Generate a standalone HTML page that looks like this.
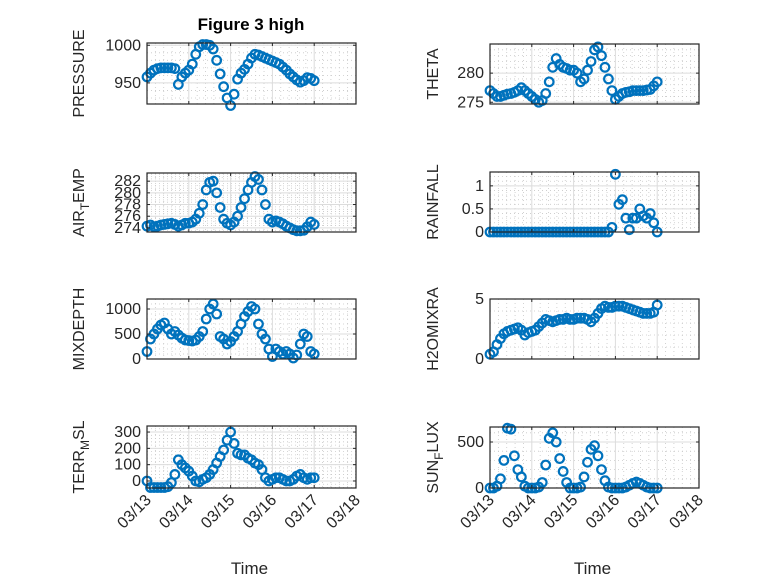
<!DOCTYPE html>
<html><head><meta charset="utf-8"><style>
body{margin:0;background:#fff;}
svg{display:block;font-family:"Liberation Sans","DejaVu Sans",sans-serif;}
</style></head><body>
<svg id="fig" width="778" height="583" viewBox="0 0 778 583" xmlns="http://www.w3.org/2000/svg">
<rect width="778" height="583" fill="#fff"/>
<text x="251" y="30" text-anchor="middle" font-size="17" font-weight="bold" fill="#000">Figure 3 high</text>
</svg>
<script>
const hours = [0,2,4,6,8,10,12,14,16,18,20,22,24,26,28,30,32,34,36,38,40,42,44,46,48,50,52,54,56,58,60,62,64,66,68,70,72,74,76,78,80,82,84,86,88,90,92,94,96];
const dayLabels = ["03/13","03/14","03/15","03/16","03/17","03/18"];
const pressure = [958,963,967,969,970,970,970,970,969,948,958,963,967,975,988,998,1001,1001,1000,995,980,962,945,930,920,935,955,963,968,975,983,988,987,985,983,981,979,977,975,971,967,962,958,954,951,953,957,956,953];
const airTemp = [274.3,274.5,274.2,274.3,274.5,274.6,274.7,274.8,274.6,274.3,274.5,274.8,274.8,275,275.5,276.5,278,280.5,281.8,282,280,277.5,275.5,274.8,274.5,275,276,277.5,279,280.5,281.8,282.8,282.3,280.5,278,275.5,275,275.2,275,274.7,274.3,274,273.7,273.5,273.5,273.6,274.2,275,274.6];
const mixDepth = [150,400,500,600,680,720,600,500,550,480,420,380,370,360,380,450,550,800,1000,1100,900,450,400,300,350,450,550,700,850,950,1050,1000,700,500,400,200,50,200,150,100,150,100,20,80,300,500,450,150,100];
const terrMsl = [0,-40,-40,-40,-40,-40,-35,-10,40,130,100,80,60,30,0,-5,10,20,40,70,110,150,190,250,300,230,170,160,160,140,130,110,100,70,20,0,10,20,20,10,0,0,10,30,40,20,10,20,20];
const theta = [277,276.5,276,276,276.2,276.4,276.5,276.7,277,277.5,277,276.5,276,275.5,275,275.3,276.5,278.5,281,282.5,281.5,281,280.8,280.5,280.5,280,278.5,279,280.5,282,284,284.5,283,281,279,277,275.5,276,276.5,276.7,276.8,277,277,277,277,277.1,277.2,277.8,278.5];
const rainfall = [0,0,0,0,0,0,0,0,0,0,0,0,0,0,0,0,0,0,0,0,0,0,0,0,0,0,0,0,0,0,0,0,0,0,0,0.1,1.25,0.6,0.7,0.3,0.05,0.3,0.3,0.5,0.35,0.3,0.4,0.2,0];
const h2oMix = [0.4,0.6,1.2,1.7,2.1,2.3,2.4,2.5,2.6,2.4,2.0,2.2,2.3,2.4,2.7,3.0,3.3,3.2,3.1,3.2,3.3,3.3,3.4,3.3,3.3,3.4,3.4,3.4,3.3,3.1,3.4,3.8,4.2,4.4,4.3,4.3,4.4,4.4,4.4,4.3,4.2,4.1,4.0,3.9,3.8,3.8,3.8,3.9,4.5];
const sunFlux = [0,0,20,100,300,650,640,350,200,120,20,0,0,0,10,60,250,540,600,500,320,180,60,0,0,0,10,120,280,420,460,350,200,80,10,0,0,0,0,10,30,50,65,50,30,10,0,0,0];

const NS="http://www.w3.org/2000/svg";
const svg=document.getElementById('fig');
function mk(tag,attrs,parent){const e=document.createElementNS(NS,tag);for(const k in attrs)e.setAttribute(k,attrs[k]);(parent||svg).appendChild(e);return e;}

const panels=[
 {name:'pressure',x0:147,x1:356,y0:43,y1:104,ymin:922,ymax:1003,ticks:[950,1000],tl:["950","1000"],data:pressure,label:[{t:"PRESSURE"}],lx:84},
 {name:'air-temp',x0:147,x1:356,y0:173,y1:232,ymin:273.3,ymax:283.4,ticks:[274,276,278,280,282],tl:["274","276","278","280","282"],data:airTemp,label:[{t:"AIR"},{t:"T",sub:true},{t:"EMP"}],lx:84},
 {name:'mixdepth',x0:147,x1:356,y0:299,y1:359,ymin:0,ymax:1200,ticks:[0,500,1000],tl:["0","500","1000"],data:mixDepth,label:[{t:"MIXDEPTH"}],lx:84},
 {name:'terr-msl',x0:147,x1:356,y0:426,y1:488,ymin:-43,ymax:337,ticks:[0,100,200,300],tl:["0","100","200","300"],data:terrMsl,label:[{t:"TERR"},{t:"M",sub:true},{t:"SL"}],lx:84,bottom:true},
 {name:'theta',x0:490,x1:699,y0:44,y1:104,ymin:274.7,ymax:285,ticks:[275,280],tl:["275","280"],data:theta,label:[{t:"THETA"}],lx:438},
 {name:'rainfall',x0:490,x1:699,y0:172,y1:232,ymin:0,ymax:1.3,ticks:[0,0.5,1],tl:["0","0.5","1"],data:rainfall,label:[{t:"RAINFALL"}],lx:438},
 {name:'h2omixra',x0:490,x1:699,y0:299,y1:359,ymin:0,ymax:5,ticks:[0,5],tl:["0","5"],data:h2oMix,label:[{t:"H2OMIXRA"}],lx:438,minorY:1},
 {name:'sun-flux',x0:490,x1:699,y0:427,y1:488,ymin:0,ymax:663,ticks:[0,500],tl:["0","500"],data:sunFlux,label:[{t:"SUN"},{t:"F",sub:true},{t:"LUX"}],lx:438,bottom:true}
];

panels.forEach(p=>{
 const g=mk('g',{});
 
 
 const W=p.x1-p.x0,H=p.y1-p.y0;
 const sx=h=>p.x0+h/(5*24)*W;
 const sy=v=>p.y1-(v-p.ymin)/(p.ymax-p.ymin)*H;
 mk('rect',{x:p.x0,y:p.y0,width:W,height:H,fill:'#fff'},g);
 for(let d=0;d<5;d++)for(let k=1;k<5;k++){const x=sx((d+k/5)*24);mk('line',{x1:x,x2:x,y1:p.y0,y2:p.y1,stroke:'#c8c8c8','stroke-width':0.8,'stroke-dasharray':'1 3'},g);}
 const step=p.minorY||((p.ticks[1]-p.ticks[0])/5);
 for(let v=Math.ceil(p.ymin/step)*step;v<=p.ymax;v+=step){const y=sy(v);mk('line',{x1:p.x0,x2:p.x1,y1:y,y2:y,stroke:'#c8c8c8','stroke-width':0.8,'stroke-dasharray':'1 3'},g);}
 for(let d=1;d<5;d++){const x=sx(d*24);mk('line',{x1:x,x2:x,y1:p.y0,y2:p.y1,stroke:'#dcdcdc','stroke-width':1},g);}
 p.ticks.forEach(v=>{const y=sy(v);mk('line',{x1:p.x0,x2:p.x1,y1:y,y2:y,stroke:'#dcdcdc','stroke-width':1},g);});
 p.data.forEach((v,i)=>{
  const c=mk('circle',{cx:sx(hours[i]).toFixed(2),cy:sy(v).toFixed(2),r:4.3,fill:'none',stroke:'#0072BD','stroke-width':2.2},g);
  
  
 });
 mk('rect',{x:p.x0,y:p.y0,width:W,height:H,fill:'none',stroke:'#262626','stroke-width':1.2},g);
 for(let d=0;d<=5;d++){const x=sx(d*24);mk('line',{x1:x,x2:x,y1:p.y1,y2:p.y1-3,stroke:'#262626'},g);mk('line',{x1:x,x2:x,y1:p.y0,y2:p.y0+3,stroke:'#262626'},g);
  if(p.bottom){const t=mk('text',{x:x+5,y:p.y1+13,'text-anchor':'end','font-size':16,fill:'#262626',transform:`rotate(-45 ${x+5} ${p.y1+13})`},g);t.textContent=dayLabels[d];
   }}
 p.ticks.forEach((v,i)=>{const y=sy(v);mk('line',{x1:p.x0,x2:p.x0+3,y1:y,y2:y,stroke:'#262626'},g);mk('line',{x1:p.x1,x2:p.x1-3,y1:y,y2:y,stroke:'#262626'},g);
  const t=mk('text',{x:p.x0-6,y:y+5,'text-anchor':'end','font-size':16,fill:'#262626'},g);t.textContent=p.tl[i];
  });
 const cy=(p.y0+p.y1)/2;
 const lab=mk('text',{x:p.lx,y:cy,'text-anchor':'middle','font-size':16,fill:'#262626',transform:`rotate(-90 ${p.lx} ${cy})`},g);
 
 
 p.label.forEach(s=>{const ts=mk('tspan',{},lab);ts.textContent=s.t;if(s.sub){ts.setAttribute('font-size','12');ts.setAttribute('dy','5');}else if(lab.childNodes.length>1){ts.setAttribute('dy','-5');}});
 if(p.bottom){const t=mk('text',{x:(p.x0+p.x1)/2-2,y:574,'text-anchor':'middle','font-size':17,fill:'#262626'},g);t.textContent='Time';
  }
});
</script>
</body></html>
